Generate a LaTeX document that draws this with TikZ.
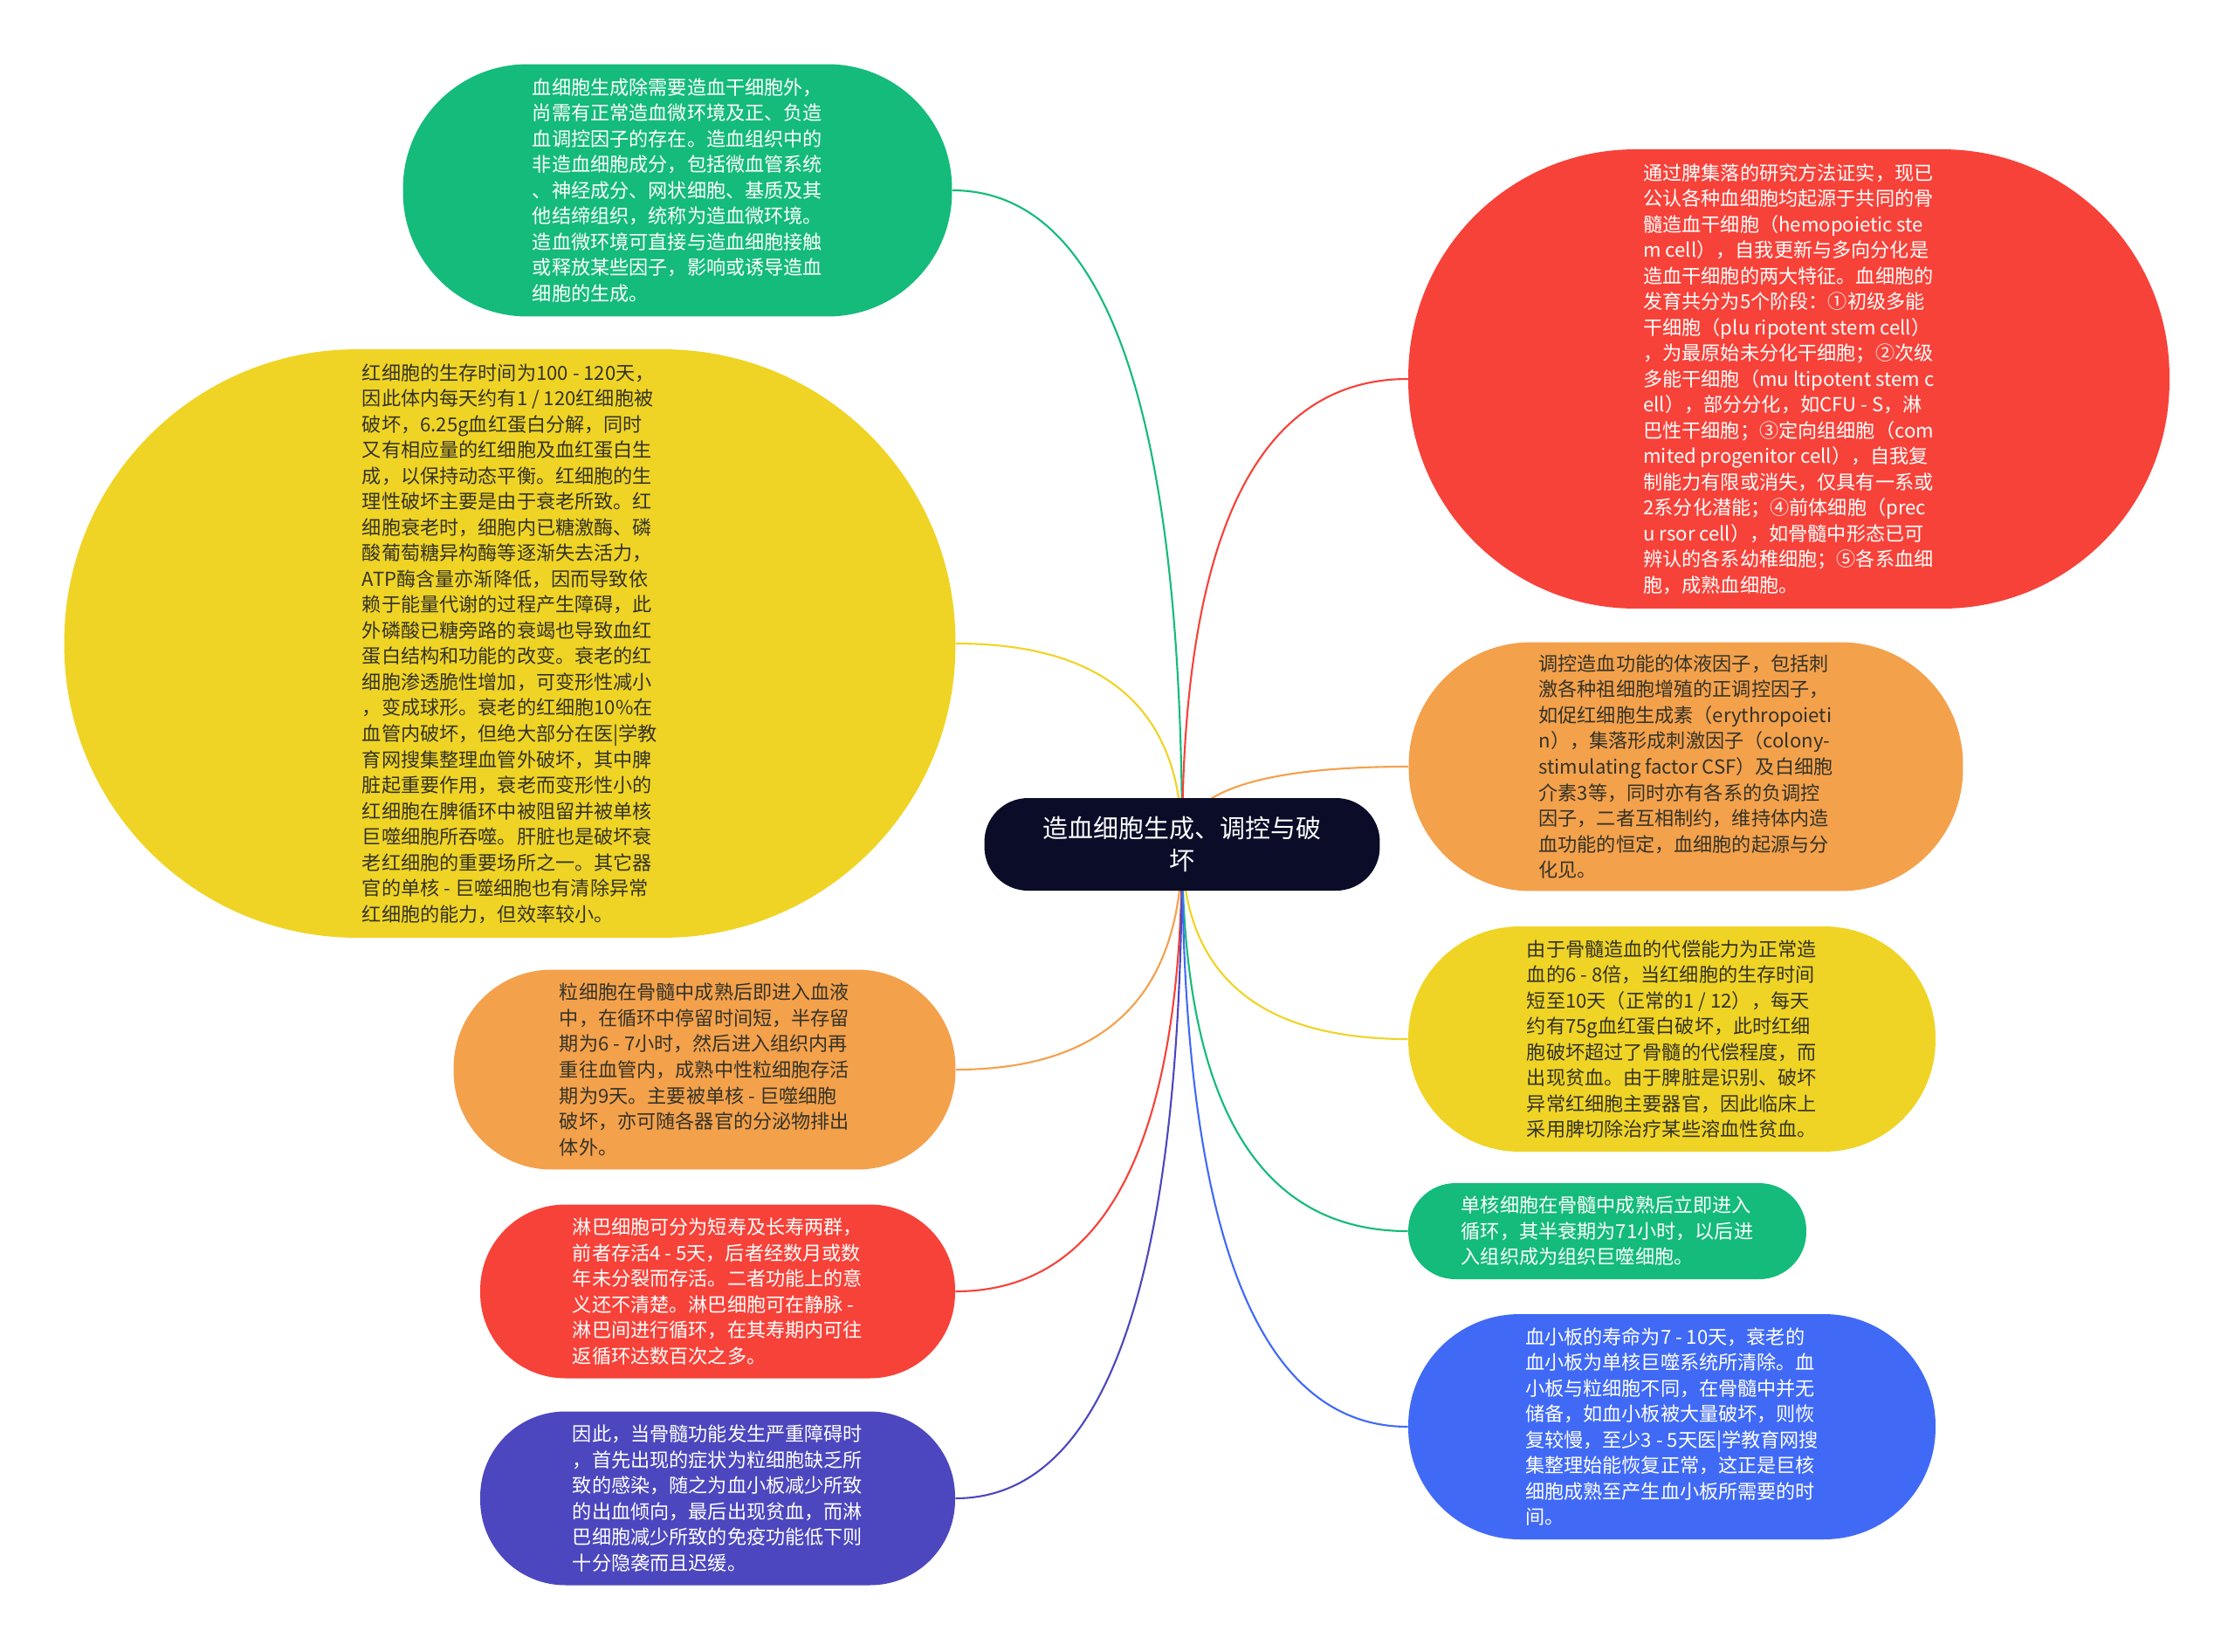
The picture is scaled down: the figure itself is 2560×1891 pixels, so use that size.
\documentclass[tikz,border=0pt]{standalone}
\usepackage{fontspec}
\newfontfamily\cjk{Noto Sans CJK SC}
\usepackage{xcolor}
\usetikzlibrary{calc, backgrounds}

\definecolor{mmgreen}{RGB}{20,187,122}
\definecolor{mmyellow}{RGB}{240,212,37}
\definecolor{mmorange}{RGB}{244,161,76}
\definecolor{mmred}{RGB}{247,66,57}
\definecolor{mmindigo}{RGB}{76,71,190}
\definecolor{mmblue}{RGB}{64,106,246}
\definecolor{mmnavy}{RGB}{10,12,40}
\definecolor{mmdark}{RGB}{51,51,40}

\begin{document}
\begin{tikzpicture}[
      x=0.02cm, y=-0.02cm,
      leaf/.style={inner sep=0pt, align=left,
        font=\cjk\fontsize{12.6pt}{16.8pt}\selectfont},
      root/.style={inner sep=0pt, align=center, fill=mmnavy, text=white,
        font=\cjk\fontsize{16.5pt}{21pt}\selectfont},
      link/.style={line width=1.2pt}
    ]
    \useasboundingbox (0,0) rectangle (2560,1891);

    \node[root, minimum width=9.06cm, minimum height=2.12cm, rounded corners=1.0cm]
      (root) at (1354,967) {造血细胞生成、调控与破\\坏};

    \node[leaf, fill=mmgreen, text=white, minimum width=12.58cm, minimum height=5.78cm,
      rounded corners=2.85cm] (niche) at (776,218) {%
      血细胞生成除需要造血干细胞外，\\
      尚需有正常造血微环境及正、负造\\
      血调控因子的存在。造血组织中的\\
      非造血细胞成分，包括微血管系统\\
      、神经成分、网状细胞、基质及其\\
      他结缔组织，统称为造血微环境。\\
      造血微环境可直接与造血细胞接触\\
      或释放某些因子，影响或诱导造血\\
      细胞的生成。};

    \node[leaf, fill=mmyellow, text=mmdark, minimum width=20.42cm, minimum height=13.48cm,
      rounded corners=6.7cm] (redcell) at (584,737) {%
      红细胞的生存时间为100 - 120天，\\
      因此体内每天约有1 / 120红细胞被\\
      破坏，6.25g血红蛋白分解，同时\\
      又有相应量的红细胞及血红蛋白生\\
      成，以保持动态平衡。红细胞的生\\
      理性破坏主要是由于衰老所致。红\\
      细胞衰老时，细胞内已糖激酶、磷\\
      酸葡萄糖异构酶等逐渐失去活力，\\
      ATP酶含量亦渐降低，因而导致依\\
      赖于能量代谢的过程产生障碍，此\\
      外磷酸已糖旁路的衰竭也导致血红\\
      蛋白结构和功能的改变。衰老的红\\
      细胞渗透脆性增加，可变形性减小\\
      ，变成球形。衰老的红细胞10\%在\\
      血管内破坏，但绝大部分在医|学教\\
      育网搜集整理血管外破坏，其中脾\\
      脏起重要作用，衰老而变形性小的\\
      红细胞在脾循环中被阻留并被单核\\
      巨噬细胞所吞噬。肝脏也是破坏衰\\
      老红细胞的重要场所之一。其它器\\
      官的单核 - 巨噬细胞也有清除异常\\
      红细胞的能力，但效率较小。};

    \node[leaf, fill=mmorange, text=mmdark, minimum width=11.5cm, minimum height=4.58cm,
      rounded corners=2.25cm] (granulo) at (807,1225) {%
      粒细胞在骨髓中成熟后即进入血液\\
      中，在循环中停留时间短，半存留\\
      期为6 - 7小时，然后进入组织内再\\
      重往血管内，成熟中性粒细胞存活\\
      期为9天。主要被单核 - 巨噬细胞\\
      破坏，亦可随各器官的分泌物排出\\
      体外。};

    \node[leaf, fill=mmred, text=white, minimum width=10.88cm, minimum height=3.98cm,
      rounded corners=1.95cm] (lympho) at (822,1479) {%
      淋巴细胞可分为短寿及长寿两群，\\
      前者存活4 - 5天，后者经数月或数\\
      年未分裂而存活。二者功能上的意\\
      义还不清楚。淋巴细胞可在静脉 -\\
      淋巴间进行循环，在其寿期内可往\\
      返循环达数百次之多。};

    \node[leaf, fill=mmindigo, text=white, minimum width=10.88cm, minimum height=3.98cm,
      rounded corners=1.95cm] (failure) at (822,1716) {%
      因此，当骨髓功能发生严重障碍时\\
      ，首先出现的症状为粒细胞缺乏所\\
      致的感染，随之为血小板减少所致\\
      的出血倾向，最后出现贫血，而淋\\
      巴细胞减少所致的免疫功能低下则\\
      十分隐袭而且迟缓。};

    \node[leaf, fill=mmred, text=white, minimum width=17.44cm, minimum height=10.52cm,
      rounded corners=5.2cm] (stem) at (2049,434) {%
      通过脾集落的研究方法证实，现已\\
      公认各种血细胞均起源于共同的骨\\
      髓造血干细胞（hemopoietic ste\\
      m cell），自我更新与多向分化是\\
      造血干细胞的两大特征。血细胞的\\
      发育共分为5个阶段：①初级多能\\
      干细胞（plu ripotent stem cell）\\
      ，为最原始未分化干细胞；②次级\\
      多能干细胞（mu ltipotent stem c\\
      ell），部分分化，如CFU - S，淋\\
      巴性干细胞；③定向组细胞（com\\
      mited progenitor cell），自我复\\
      制能力有限或消失，仅具有一系或\\
      2系分化潜能；④前体细胞（prec\\
      u rsor cell），如骨髓中形态已可\\
      辨认的各系幼稚细胞；⑤各系血细\\
      胞，成熟血细胞。};

    \node[leaf, fill=mmorange, text=mmdark, minimum width=12.7cm, minimum height=5.7cm,
      rounded corners=2.8cm] (humoral) at (1931,878) {%
      调控造血功能的体液因子，包括刺\\
      激各种祖细胞增殖的正调控因子，\\
      如促红细胞生成素（erythropoieti\\
      n），集落形成刺激因子（colony-\\
      stimulating factor CSF）及白细胞\\
      介素3等，同时亦有各系的负调控\\
      因子，二者互相制约，维持体内造\\
      血功能的恒定，血细胞的起源与分\\
      化见。};

    \node[leaf, fill=mmyellow, text=mmdark, minimum width=12.08cm, minimum height=5.16cm,
      rounded corners=2.55cm] (anemia) at (1915,1190) {%
      由于骨髓造血的代偿能力为正常造\\
      血的6 - 8倍，当红细胞的生存时间\\
      短至10天（正常的1 / 12），每天\\
      约有75g血红蛋白破坏，此时红细\\
      胞破坏超过了骨髓的代偿程度，而\\
      出现贫血。由于脾脏是识别、破坏\\
      异常红细胞主要器官，因此临床上\\
      采用脾切除治疗某些溶血性贫血。};

    \node[leaf, fill=mmgreen, text=white, minimum width=9.12cm, minimum height=2.2cm,
      rounded corners=1.08cm] (mono) at (1841,1410) {%
      单核细胞在骨髓中成熟后立即进入\\
      循环，其半衰期为71小时，以后进\\
      入组织成为组织巨噬细胞。};

    \node[leaf, fill=mmblue, text=white, minimum width=12.08cm, minimum height=5.16cm,
      rounded corners=2.55cm] (platelet) at (1915,1634) {%
      血小板的寿命为7 - 10天，衰老的\\
      血小板为单核巨噬系统所清除。血\\
      小板与粒细胞不同，在骨髓中并无\\
      储备，如血小板被大量破坏，则恢\\
      复较慢，至少3 - 5天医|学教育网搜\\
      集整理始能恢复正常，这正是巨核\\
      细胞成熟至产生血小板所需要的时\\
      间。};

    \begin{scope}[on background layer]
      \fill[white] (0,0) rectangle (2560,1891);
      \foreach \leaf/\side/\col in {niche/east/mmgreen, redcell/east/mmyellow,
          granulo/east/mmorange, lympho/east/mmred, failure/east/mmindigo,
          stem/west/mmred, humoral/west/mmorange, anemia/west/mmyellow,
          mono/west/mmgreen, platelet/west/mmblue}
        \draw[link, draw=\col] (root.center)
          .. controls ($(root.center)!2/3!(root.center |- \leaf.\side)$)
          and ($(\leaf.\side)!2/3!(root.center |- \leaf.\side)$) .. (\leaf.\side);
    \end{scope}
  \end{tikzpicture}
\end{document}
